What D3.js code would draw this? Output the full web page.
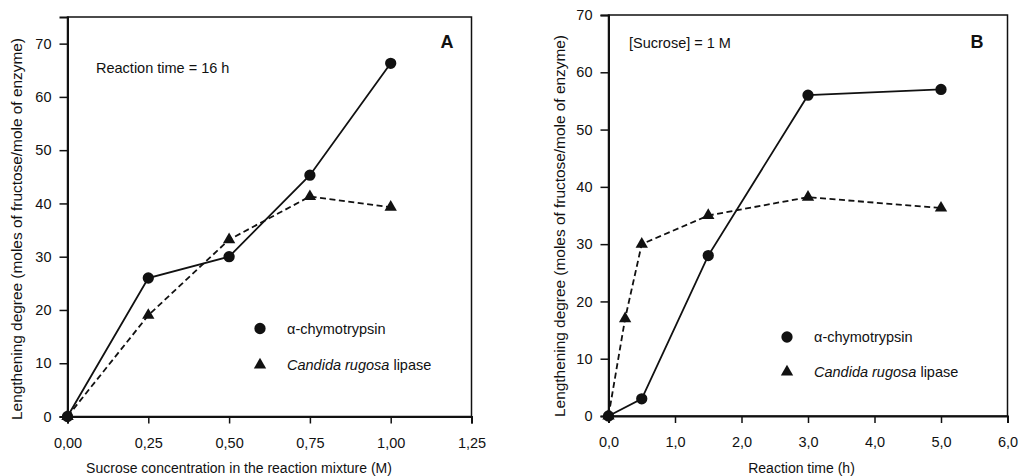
<!DOCTYPE html>
<html>
<head>
<meta charset="utf-8">
<script src="https://cdn.jsdelivr.net/npm/d3@7"></script>
<style>
  body { margin: 0; background: #fff; }
  svg { font-family: "Liberation Sans", Arial, sans-serif; }
</style>
</head>
<body>
<div id="chart"></div>
<script>
// panel A: sucrose concentration (M), reaction time 16 h
const concA = [0, 0.25, 0.5, 0.75, 1.0]
const chymoA = [0, 26, 30, 45.3, 66.3]
const lipaseA = [0, 19, 33.2, 41.3, 39.3]
const xTicksA = [0, 0.25, 0.5, 0.75, 1.0, 1.25]

// panel B: reaction time (h), sucrose 1 M
const timeChymoB = [0, 0.5, 1.5, 3, 5]
const chymoB = [0, 3, 28, 56, 57]
const timeLipaseB = [0, 0.25, 0.5, 1.5, 3, 5]
const lipaseB = [0, 17, 30, 35, 38.2, 36.3]
const xTicksB = [0, 1, 2, 3, 4, 5, 6]

const yTicks = [0, 10, 20, 30, 40, 50, 60, 70]
const yTitle = "Lengthening degree (moles of fructose/mole of enzyme)"

let width = 1020,
    height = 476

let svg = d3.select('#chart')
    .append('svg')
    .attr("width", width)
    .attr("height", height)

const panels = [
    {
        left: 67.5, right: 471.5, top: 17, bottom: 416.5,
        xDomain: [0, 1.25], yMax: 75, xTicks: xTicksA, fmt: v => d3.format(".2f")(v).replace(".", ","),
        series: [
            { xs: concA, ys: chymoA, shape: "circle", dash: null },
            { xs: concA, ys: lipaseA, shape: "triangle", dash: "6,3.5" }
        ],
        xTitle: "Sucrose concentration in the reaction mixture (M)", xTitleX: 239,
        yTitleX: 17, yTitleY: 229,
        note: "Reaction time = 16 h", noteX: 96, noteY: 73,
        letter: "A", letterX: 447, letterY: 47.5,
        legendX: 260, legendY: [328.5, 365]
    },
    {
        left: 608.5, right: 1007.5, top: 15, bottom: 416,
        xDomain: [0, 6], yMax: 70, xTicks: xTicksB, fmt: v => d3.format(".1f")(v).replace(".", ","),
        series: [
            { xs: timeChymoB, ys: chymoB, shape: "circle", dash: null },
            { xs: timeLipaseB, ys: lipaseB, shape: "triangle", dash: "6,3.5" }
        ],
        xTitle: "Reaction time (h)", xTitleX: 801.5,
        yTitleX: 560, yTitleY: 226,
        note: "[Sucrose] = 1 M", noteX: 629, noteY: 48,
        letter: "B", letterX: 977, letterY: 47.5,
        legendX: 787, legendY: [337, 372]
    }
]

const circleSym = d3.symbol().type(d3.symbolCircle).size(100)
const triSym = d3.symbol().type(d3.symbolTriangle).size(66)

panels.forEach(p => {
    let x = d3.scaleLinear().domain(p.xDomain).range([p.left, p.right])
    let y = d3.scaleLinear().domain([0, p.yMax]).range([p.bottom, p.top])

    let g = svg.append("g")

    // frame
    g.append("rect")
        .attr("x", p.left).attr("y", p.top)
        .attr("width", p.right - p.left).attr("height", p.bottom - p.top)
        .attr("fill", "none").attr("stroke", "#111").attr("stroke-width", 1.5)

    let xAxis = g.append("g")
        .attr("transform", `translate(0,${p.bottom})`)
        .call(d3.axisBottom(x).tickValues(p.xTicks).tickFormat(p.fmt).tickSize(7).tickPadding(14))
    let yAxis = g.append("g")
        .attr("transform", `translate(${p.left},0)`)
        .call(d3.axisLeft(y).tickValues(yTicks).tickSize(8).tickPadding(8))

    ;[xAxis, yAxis].forEach(a => {
        a.select(".domain").attr("stroke", "#111").attr("stroke-width", 2)
        a.selectAll(".tick line").attr("stroke", "#111").attr("stroke-width", 1.5)
        a.selectAll(".tick text").attr("fill", "#111").attr("font-size", 14.5)
    })

    // lines + markers
    p.series.forEach(s => {
        let pts = s.xs.map((v, i) => [v, s.ys[i]])
        g.append("path")
            .datum(pts)
            .attr("fill", "none")
            .attr("stroke", "#111")
            .attr("stroke-width", 1.8)
            .attr("stroke-dasharray", s.dash)
            .attr("d", d3.line().x(d => x(d[0])).y(d => y(d[1])))
        g.selectAll(null)
            .data(pts)
            .enter().append("path")
            .attr("transform", d => `translate(${x(d[0])},${y(d[1])})`)
            .attr("d", s.shape === "circle" ? circleSym() : triSym())
            .attr("fill", "#111")
    })

    // legend
    g.append("path")
        .attr("transform", `translate(${p.legendX},${p.legendY[0]})`)
        .attr("d", circleSym()).attr("fill", "#111")
    g.append("path")
        .attr("transform", `translate(${p.legendX},${p.legendY[1]})`)
        .attr("d", triSym()).attr("fill", "#111")
    g.append("text")
        .attr("x", p.legendX + 27).attr("y", p.legendY[0] + 5)
        .attr("font-size", 14.5).attr("fill", "#111")
        .text("\u03b1-chymotrypsin")
    let lt = g.append("text")
        .attr("x", p.legendX + 27).attr("y", p.legendY[1] + 5)
        .attr("font-size", 14.5).attr("fill", "#111")
    lt.append("tspan").attr("font-style", "italic").text("Candida rugosa")
    lt.append("tspan").text(" lipase")

    // annotations
    g.append("text")
        .attr("x", p.noteX).attr("y", p.noteY)
        .attr("font-size", 14.5).attr("fill", "#111")
        .text(p.note)
    g.append("text")
        .attr("x", p.letterX).attr("y", p.letterY)
        .attr("text-anchor", "middle")
        .attr("font-size", 18).attr("font-weight", "bold").attr("fill", "#111")
        .text(p.letter)

    // axis titles
    g.append("text")
        .attr("x", p.xTitleX).attr("y", 473)
        .attr("text-anchor", "middle")
        .attr("font-size", 14).attr("fill", "#111")
        .text(p.xTitle)
    g.append("text")
        .attr("transform", `translate(${p.yTitleX},${p.yTitleY}) rotate(-90)`)
        .attr("text-anchor", "middle")
        .attr("dy", "0.35em")
        .attr("font-size", 14).attr("fill", "#111")
        .attr("textLength", 382).attr("lengthAdjust", "spacingAndGlyphs")
        .text(yTitle)
})
</script>
</body>
</html>
